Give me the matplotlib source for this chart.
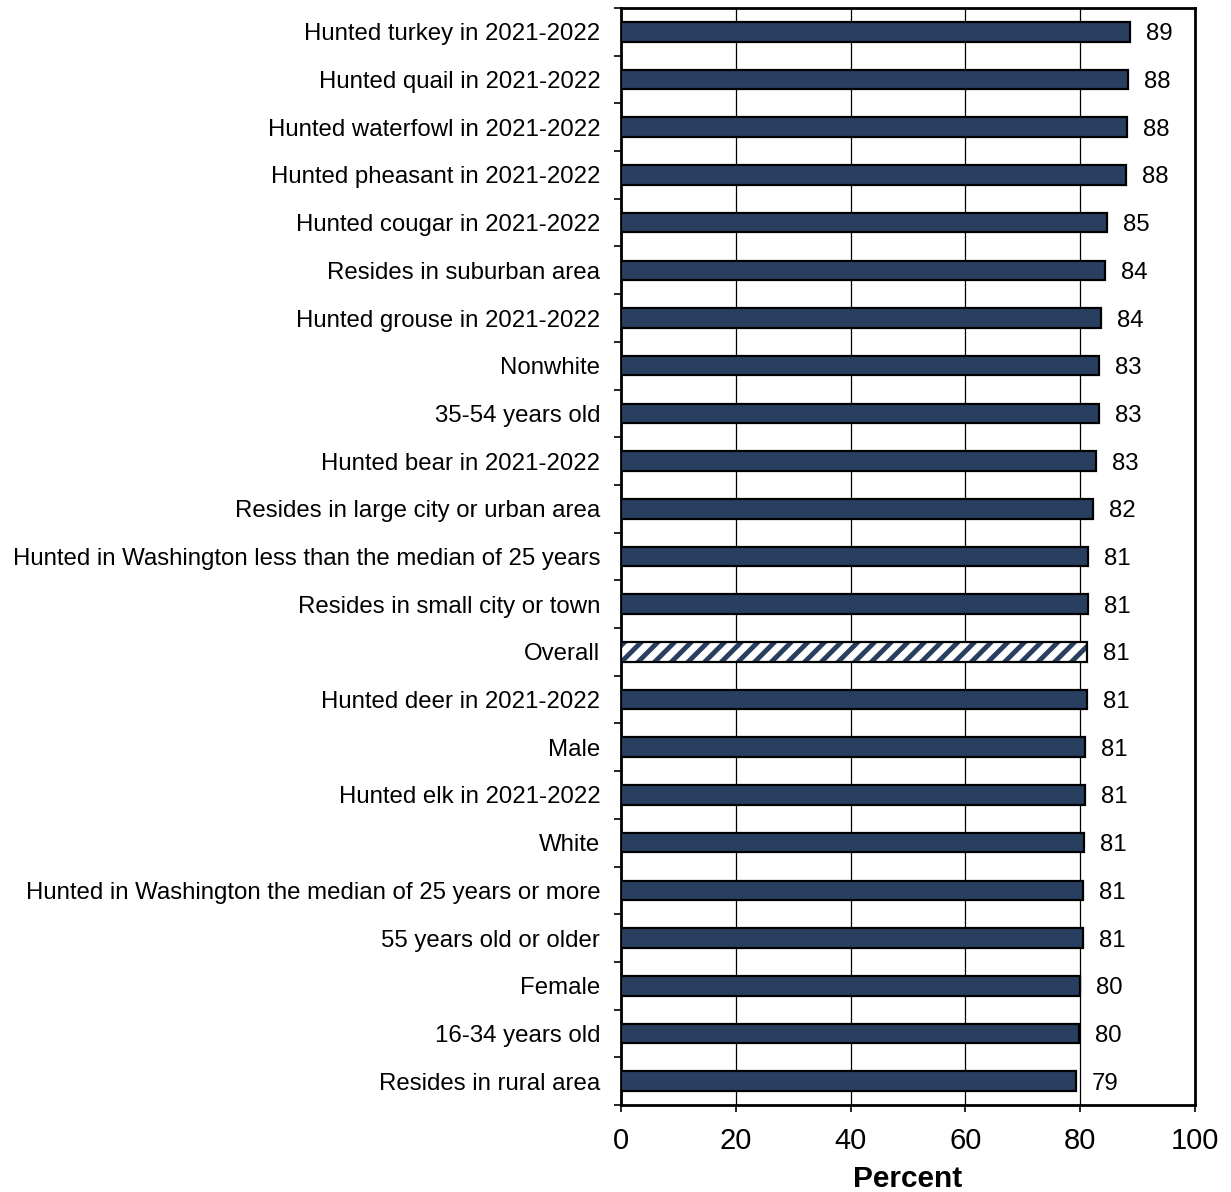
import matplotlib
matplotlib.use("Agg")
import matplotlib.pyplot as plt
from matplotlib.ticker import FixedLocator, NullFormatter

plt.rcParams['font.family'] = ['Liberation Sans', 'DejaVu Sans']
plt.rcParams['hatch.linewidth'] = 3.5

categories = [
    "Hunted turkey in 2021-2022",
    "Hunted quail in 2021-2022",
    "Hunted waterfowl in 2021-2022",
    "Hunted pheasant in 2021-2022",
    "Hunted cougar in 2021-2022",
    "Resides in suburban area",
    "Hunted grouse in 2021-2022",
    "Nonwhite",
    "35-54 years old",
    "Hunted bear in 2021-2022",
    "Resides in large city or urban area",
    "Hunted in Washington less than the median of 25 years",
    "Resides in small city or town",
    "Overall",
    "Hunted deer in 2021-2022",
    "Male",
    "Hunted elk in 2021-2022",
    "White",
    "Hunted in Washington the median of 25 years or more",
    "55 years old or older",
    "Female",
    "16-34 years old",
    "Resides in rural area",
]
percent = [
    88.6, 88.4, 88.2, 87.95, 84.6, 84.3, 83.7, 83.3, 83.2, 82.7,
    82.2, 81.4, 81.3, 81.2, 81.1, 80.9, 80.8, 80.7, 80.55, 80.52,
    79.9, 79.7, 79.2,
]
highlight = "Overall"

navy = "#283f5f"

fig = plt.figure(figsize=(12.31, 11.92), dpi=100)
ax = fig.add_axes([0.5045, 0.0730, 0.4663, 0.9203])

n = len(categories)
ypos = list(range(n))
for y, cat, val in zip(ypos, categories, percent):
    if cat == highlight:
        ax.barh(y, val, height=0.41, color="white", edgecolor=navy, hatch="//",
                linewidth=0, zorder=3)
        ax.barh(y, val, height=0.41, fill=False, edgecolor="black",
                linewidth=1.6, zorder=4)
    else:
        ax.barh(y, val, height=0.41, color=navy, edgecolor="black",
                linewidth=1.6, zorder=3)
    ax.annotate(f"{val:.0f}", xy=(val, y), xytext=(11.5, 0),
                textcoords="offset points", ha="left", va="center_baseline",
                fontsize=17.3, color="black")

ax.set_xlim(0, 100)
ax.set_ylim(n - 0.5, -0.5)
ax.set_xticks([0, 20, 40, 60, 80, 100])
ax.tick_params(axis="x", labelsize=21, length=5, width=1.2, direction="out", pad=11)
ax.set_yticks(ypos)
ax.set_yticklabels(categories, fontsize=17.3, va="center_baseline")
ax.tick_params(axis="y", which="major", length=0, pad=15)
ax.yaxis.set_minor_locator(FixedLocator([i - 0.5 for i in range(n + 1)]))
ax.yaxis.set_minor_formatter(NullFormatter())
ax.tick_params(axis="y", which="minor", length=5, width=1.2, direction="out")

ax.grid(axis="x", color="black", linewidth=0.9, zorder=1)
ax.set_axisbelow(True)
for s in ax.spines.values():
    s.set_linewidth(2.0)
    s.set_color("black")

ax.set_xlabel("Percent", fontsize=21.5, fontweight="bold", labelpad=7)

fig.savefig("out.png", dpi=100)
